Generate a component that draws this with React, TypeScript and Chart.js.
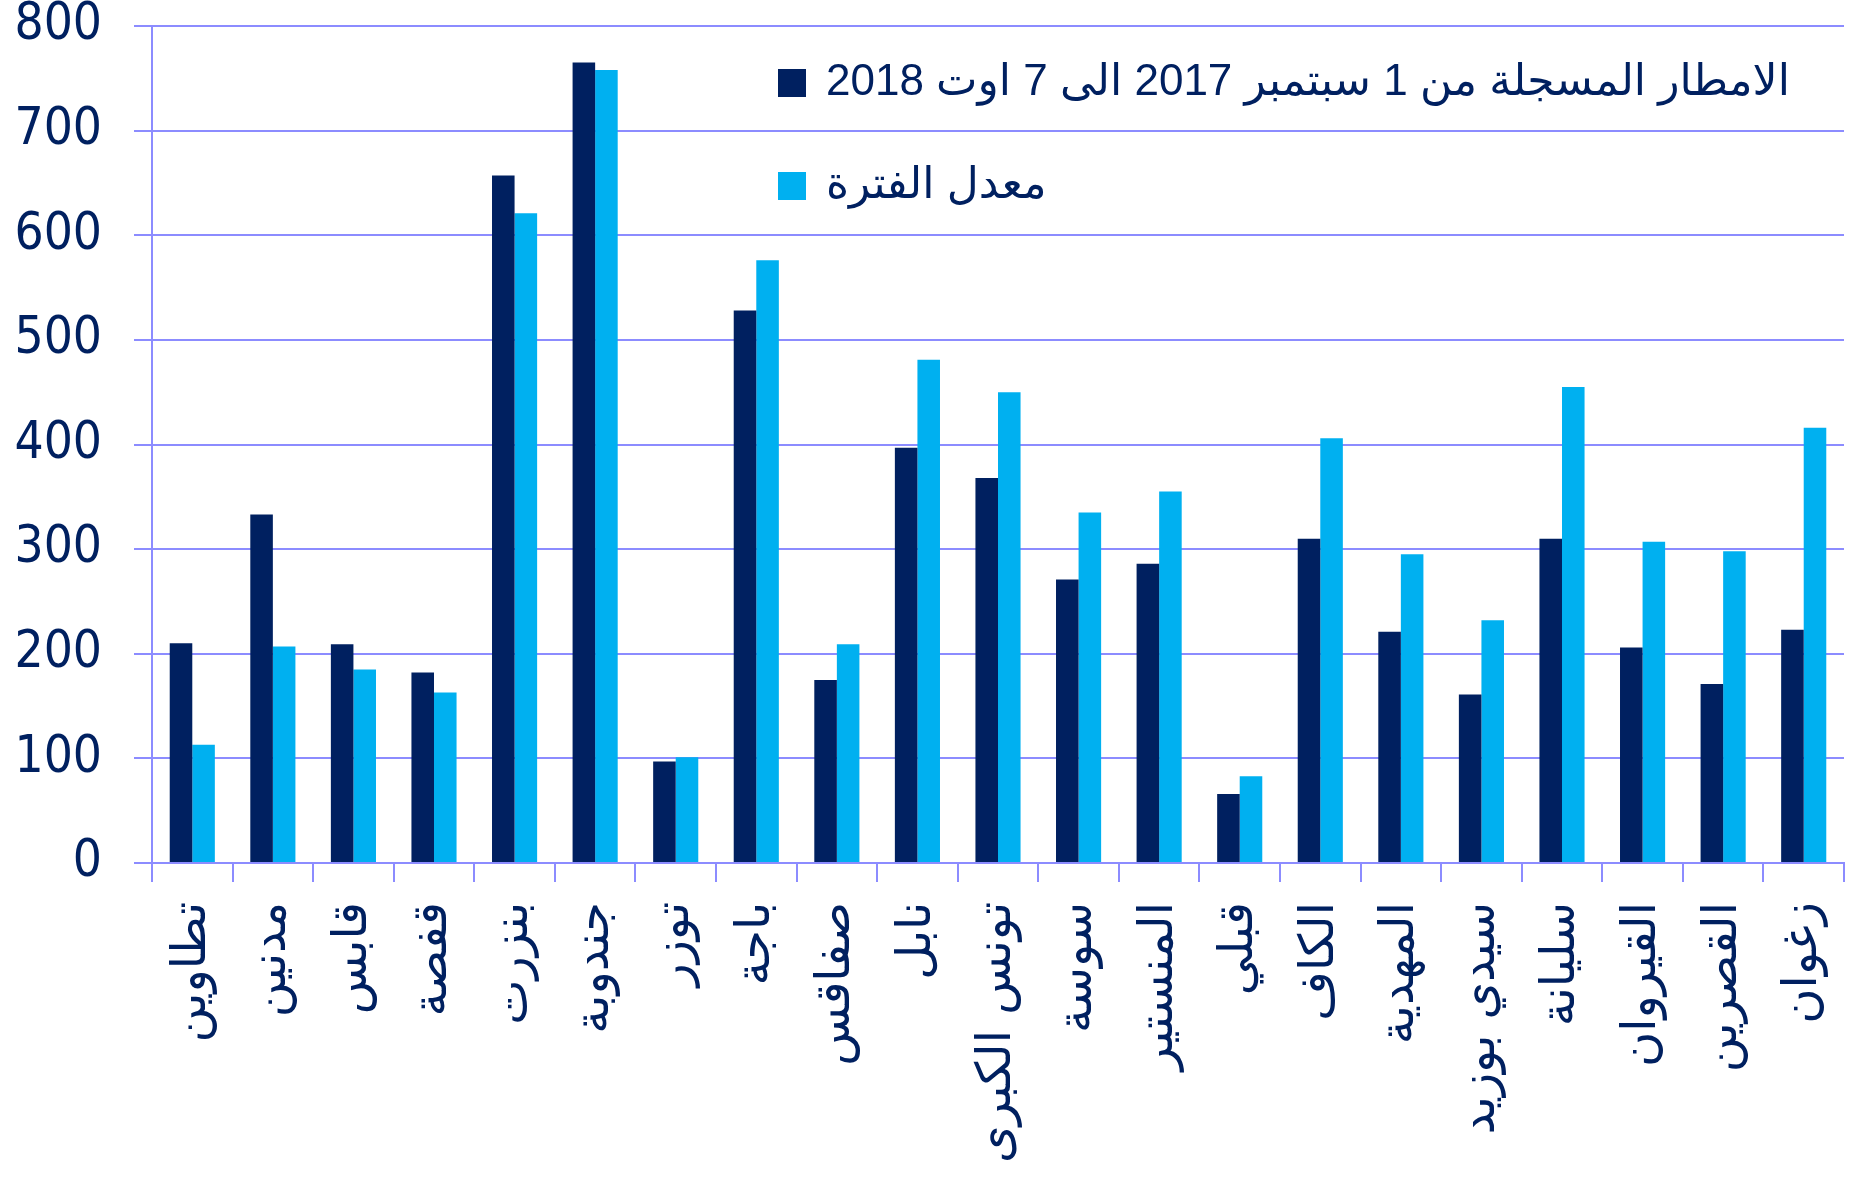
import React, { useEffect, useRef } from "react";
import { Chart, registerables } from "chart.js";

Chart.register(...registerables);

const categories = [
  "تطاوين", "مدنين", "قابس", "قفصة", "بنزرت", "جندوبة", "توزر", "باجة", "صفاقس", "نابل",
  "تونس الكبرى", "سوسة", "المنستير", "قبلي", "الكاف", "المهدية", "سيدي بوزيد", "سليانة",
  "القيروان", "القصرين", "زغوان",
];
const rainfall = [210, 333, 209, 182, 657, 765, 97, 528, 175, 397, 368, 271, 286, 66, 310, 221, 161, 310, 206, 171, 223];
const periodAverage = [113, 207, 185, 163, 621, 758, 101, 576, 209, 481, 450, 335, 355, 83, 406, 295, 232, 455, 307, 298, 416];
const seriesNames = ["الامطار المسجلة من 1 سبتمبر 2017 الى 7 اوت 2018", "معدل الفترة"];
const yMin = 0;
const yMax = 800;
const yStep = 100;

const NAVY = "#002060";
const CYAN = "#00B0F0";
const GRID = "#8c8cff";

const legendPlugin = {
  id: "insideLegend",
  afterDraw(chart: any) {
    const ctx = chart.ctx;
    ctx.save();
    chart.data.datasets.forEach((ds: any, i: number) => {
      const y = 83 + i * 103;
      ctx.fillStyle = ds.backgroundColor;
      ctx.fillRect(778, y - 14, 28, 28);
      ctx.font = '44px "Liberation Sans", "DejaVu Sans", sans-serif';
      ctx.fillStyle = NAVY;
      ctx.textBaseline = "middle";
      ctx.direction = "rtl";
      ctx.textAlign = "left";
      ctx.fillText(ds.label, 826, y);
    });
    ctx.restore();
  },
};

export default function App() {
  const ref = useRef<HTMLCanvasElement | null>(null);
  useEffect(() => {
    document.body.style.margin = "0";
    const chart = new Chart(ref.current as HTMLCanvasElement, {
      type: "bar",
      data: {
        labels: categories,
        datasets: [
          { label: seriesNames[0], data: rainfall, backgroundColor: NAVY, categoryPercentage: 0.56, barPercentage: 1 },
          { label: seriesNames[1], data: periodAverage, backgroundColor: CYAN, categoryPercentage: 0.56, barPercentage: 1 },
        ],
      },
      options: {
        animation: false,
        responsive: false,
        devicePixelRatio: 1,
        layout: { padding: { left: 14, top: 26, right: 12, bottom: 0 } },
        plugins: { legend: { display: false }, tooltip: { enabled: false } },
        scales: {
          x: {
            grid: { display: true, drawOnChartArea: false, drawTicks: true, tickLength: 19, color: GRID, lineWidth: 2, offset: true },
            border: { display: true, color: GRID, width: 2 },
            ticks: {
              autoSkip: false,
              minRotation: 90,
              maxRotation: 90,
              padding: 20,
              color: NAVY,
              font: { family: '"DejaVu Sans", sans-serif', size: 48 },
            },
            afterFit(scale: any) {
              scale.height = 316;
              scale.paddingLeft = 0;
              scale.paddingRight = 0;
            },
          },
          y: {
            min: yMin,
            max: yMax,
            grid: { color: GRID, lineWidth: 2, tickLength: 18 },
            border: { display: true, color: GRID, width: 2 },
            ticks: {
              stepSize: yStep,
              padding: 32,
              color: NAVY,
              font: { family: '"DejaVu Sans Condensed", sans-serif', size: 51, lineHeight: 1 },
            },
            afterFit(scale: any) {
              scale.width = 138;
              scale.paddingTop = 0;
              scale.paddingBottom = 0;
            },
          },
        },
      },
      plugins: [legendPlugin],
    });
    return () => chart.destroy();
  }, []);
  return (
    <div style={{ position: "fixed", left: 0, top: 0, width: 1856, height: 1179, background: "#fff" }}>
      <canvas ref={ref} width={1856} height={1179} style={{ width: 1856, height: 1179, display: "block" }} />
    </div>
  );
}
